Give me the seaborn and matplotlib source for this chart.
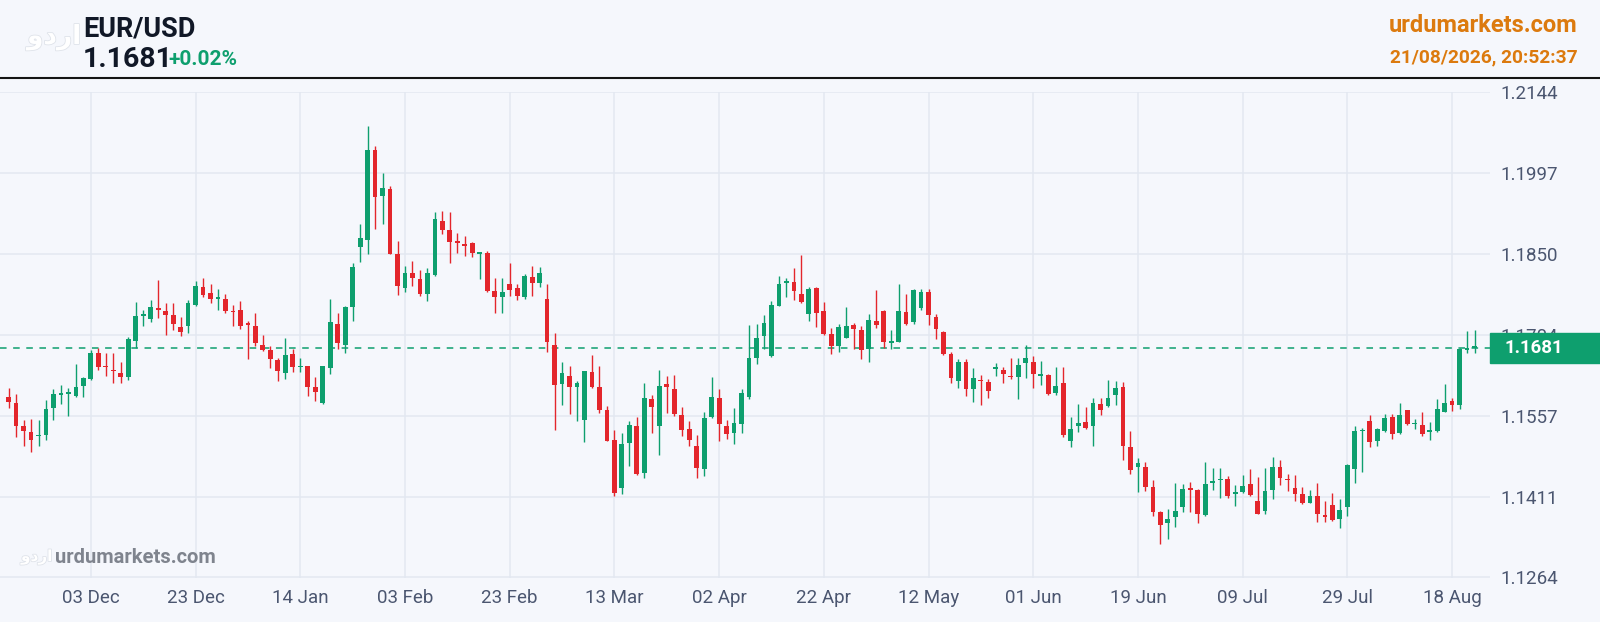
import numpy as np
import pandas as pd
import matplotlib
matplotlib.use("Agg")
import matplotlib.pyplot as plt
import matplotlib.transforms as mtransforms
import matplotlib.patheffects as pe
from matplotlib.patches import Rectangle
from matplotlib.lines import Line2D
import seaborn as sns

# daily EUR/USD candles (oldest first)
open_ = [
    1.1592, 1.1581, 1.1539, 1.1528, 1.1520, 1.1522, 1.1572, 1.1595, 1.1597, 1.1594,
    1.1611, 1.1624, 1.1671, 1.1646, 1.1639, 1.1634, 1.1627, 1.1693, 1.1738, 1.1733,
    1.1752, 1.1747, 1.1740, 1.1719, 1.1720, 1.1759, 1.1791, 1.1780, 1.1770, 1.1770,
    1.1747, 1.1749, 1.1723, 1.1720, 1.1686, 1.1676, 1.1658, 1.1635, 1.1670, 1.1645,
    1.1647, 1.1609, 1.1580, 1.1644, 1.1724, 1.1686, 1.1754, 1.1864, 1.1877, 1.2039,
    1.1956, 1.1968, 1.1851, 1.1789, 1.1817, 1.1805, 1.1779, 1.1813, 1.1911, 1.1894,
    1.1872, 1.1868, 1.1871, 1.1851, 1.1852, 1.1784, 1.1772, 1.1796, 1.1789, 1.1772,
    1.1809, 1.1799, 1.1769, 1.1686, 1.1615, 1.1630, 1.1610, 1.1550, 1.1636, 1.1609,
    1.1567, 1.1514, 1.1426, 1.1508, 1.1538, 1.1453, 1.1588, 1.1539, 1.1615, 1.1606,
    1.1559, 1.1533, 1.1503, 1.1460, 1.1555, 1.1589, 1.1539, 1.1526, 1.1543, 1.1591,
    1.1662, 1.1702, 1.1666, 1.1757, 1.1798, 1.1800, 1.1779, 1.1741, 1.1789, 1.1747,
    1.1705, 1.1683, 1.1699, 1.1722, 1.1712, 1.1679, 1.1729, 1.1748, 1.1690, 1.1692,
    1.1746, 1.1728, 1.1753, 1.1781, 1.1736, 1.1709, 1.1670, 1.1620, 1.1655, 1.1606,
    1.1622, 1.1619, 1.1642, 1.1640, 1.1628, 1.1628, 1.1653, 1.1654, 1.1630, 1.1631,
    1.1599, 1.1616, 1.1512, 1.1538, 1.1546, 1.1538, 1.1578, 1.1575, 1.1595, 1.1610,
    1.1501, 1.1464, 1.1464, 1.1428, 1.1383, 1.1362, 1.1373, 1.1391, 1.1425, 1.1423,
    1.1377, 1.1436, 1.1440, 1.1442, 1.1416, 1.1419, 1.1434, 1.1402, 1.1385, 1.1423,
    1.1464, 1.1442, 1.1427, 1.1415, 1.1400, 1.1411, 1.1375, 1.1396, 1.1370, 1.1391,
    1.1461, 1.1529, 1.1548, 1.1512, 1.1529, 1.1556, 1.1526, 1.1567, 1.1542, 1.1541,
    1.1528, 1.1529, 1.1565, 1.1585, 1.1577, 1.1677, 1.1680,
]
high_ = [
    1.1608, 1.1597, 1.1549, 1.1552, 1.1550, 1.1586, 1.1605, 1.1613, 1.1607, 1.1652,
    1.1628, 1.1676, 1.1680, 1.1671, 1.1672, 1.1655, 1.1700, 1.1763, 1.1749, 1.1768,
    1.1804, 1.1762, 1.1762, 1.1737, 1.1768, 1.1802, 1.1807, 1.1796, 1.1788, 1.1779,
    1.1759, 1.1765, 1.1730, 1.1743, 1.1703, 1.1683, 1.1662, 1.1698, 1.1678, 1.1662,
    1.1648, 1.1627, 1.1648, 1.1769, 1.1743, 1.1757, 1.1834, 1.1906, 1.2082, 1.2047,
    1.1997, 1.1974, 1.1874, 1.1829, 1.1838, 1.1822, 1.1826, 1.1926, 1.1929, 1.1927,
    1.1889, 1.1884, 1.1873, 1.1854, 1.1857, 1.1807, 1.1807, 1.1835, 1.1796, 1.1815,
    1.1829, 1.1827, 1.1796, 1.1707, 1.1654, 1.1648, 1.1621, 1.1639, 1.1668, 1.1647,
    1.1575, 1.1531, 1.1526, 1.1548, 1.1556, 1.1616, 1.1595, 1.1641, 1.1630, 1.1631,
    1.1573, 1.1548, 1.1522, 1.1564, 1.1628, 1.1606, 1.1550, 1.1572, 1.1606, 1.1722,
    1.1723, 1.1740, 1.1765, 1.1811, 1.1808, 1.1825, 1.1849, 1.1790, 1.1791, 1.1763,
    1.1716, 1.1723, 1.1755, 1.1726, 1.1720, 1.1741, 1.1785, 1.1750, 1.1712, 1.1796,
    1.1778, 1.1788, 1.1788, 1.1787, 1.1741, 1.1711, 1.1673, 1.1661, 1.1661, 1.1644,
    1.1631, 1.1624, 1.1653, 1.1645, 1.1662, 1.1662, 1.1686, 1.1665, 1.1656, 1.1633,
    1.1645, 1.1645, 1.1556, 1.1578, 1.1573, 1.1590, 1.1589, 1.1622, 1.1621, 1.1618,
    1.1529, 1.1480, 1.1474, 1.1440, 1.1384, 1.1388, 1.1435, 1.1434, 1.1437, 1.1425,
    1.1474, 1.1462, 1.1462, 1.1448, 1.1432, 1.1450, 1.1461, 1.1446, 1.1463, 1.1483,
    1.1477, 1.1452, 1.1450, 1.1429, 1.1422, 1.1436, 1.1402, 1.1418, 1.1406, 1.1470,
    1.1538, 1.1535, 1.1559, 1.1536, 1.1561, 1.1560, 1.1581, 1.1568, 1.1551, 1.1564,
    1.1546, 1.1587, 1.1615, 1.1589, 1.1680, 1.1711, 1.1712,
]
low_ = [
    1.1572, 1.1518, 1.1503, 1.1492, 1.1503, 1.1513, 1.1549, 1.1578, 1.1557, 1.1591,
    1.1592, 1.1622, 1.1641, 1.1629, 1.1616, 1.1616, 1.1622, 1.1681, 1.1720, 1.1727,
    1.1735, 1.1703, 1.1713, 1.1702, 1.1707, 1.1757, 1.1772, 1.1762, 1.1749, 1.1743,
    1.1720, 1.1715, 1.1660, 1.1684, 1.1674, 1.1644, 1.1620, 1.1624, 1.1636, 1.1636,
    1.1594, 1.1585, 1.1579, 1.1633, 1.1678, 1.1671, 1.1730, 1.1836, 1.1851, 1.1896,
    1.1906, 1.1850, 1.1776, 1.1781, 1.1792, 1.1775, 1.1766, 1.1811, 1.1887, 1.1834,
    1.1853, 1.1848, 1.1846, 1.1805, 1.1782, 1.1743, 1.1744, 1.1775, 1.1767, 1.1770,
    1.1775, 1.1790, 1.1673, 1.1532, 1.1576, 1.1560, 1.1547, 1.1509, 1.1607, 1.1562,
    1.1511, 1.1412, 1.1415, 1.1467, 1.1450, 1.1444, 1.1526, 1.1486, 1.1562, 1.1557,
    1.1521, 1.1503, 1.1444, 1.1448, 1.1553, 1.1511, 1.1515, 1.1506, 1.1526, 1.1588,
    1.1651, 1.1678, 1.1664, 1.1756, 1.1772, 1.1767, 1.1761, 1.1729, 1.1719, 1.1703,
    1.1669, 1.1673, 1.1699, 1.1679, 1.1661, 1.1655, 1.1716, 1.1681, 1.1678, 1.1691,
    1.1722, 1.1723, 1.1749, 1.1722, 1.1696, 1.1667, 1.1617, 1.1608, 1.1593, 1.1582,
    1.1576, 1.1589, 1.1630, 1.1616, 1.1624, 1.1587, 1.1625, 1.1607, 1.1613, 1.1595,
    1.1595, 1.1518, 1.1500, 1.1527, 1.1533, 1.1503, 1.1558, 1.1574, 1.1576, 1.1478,
    1.1451, 1.1419, 1.1420, 1.1376, 1.1324, 1.1334, 1.1355, 1.1382, 1.1383, 1.1362,
    1.1376, 1.1422, 1.1409, 1.1408, 1.1393, 1.1417, 1.1412, 1.1379, 1.1379, 1.1406,
    1.1432, 1.1420, 1.1403, 1.1398, 1.1399, 1.1365, 1.1365, 1.1367, 1.1354, 1.1376,
    1.1435, 1.1456, 1.1501, 1.1503, 1.1527, 1.1515, 1.1524, 1.1541, 1.1533, 1.1521,
    1.1513, 1.1527, 1.1564, 1.1566, 1.1570, 1.1671, 1.1671,
]
close_ = [
    1.1582, 1.1539, 1.1530, 1.1514, 1.1522, 1.1569, 1.1597, 1.1596, 1.1598, 1.1609,
    1.1626, 1.1671, 1.1646, 1.1645, 1.1638, 1.1627, 1.1696, 1.1738, 1.1739, 1.1754,
    1.1750, 1.1740, 1.1724, 1.1710, 1.1762, 1.1793, 1.1777, 1.1770, 1.1772, 1.1747,
    1.1745, 1.1720, 1.1722, 1.1690, 1.1677, 1.1660, 1.1638, 1.1667, 1.1645, 1.1646,
    1.1610, 1.1600, 1.1647, 1.1727, 1.1689, 1.1755, 1.1828, 1.1879, 1.2040, 1.1954,
    1.1970, 1.1851, 1.1792, 1.1817, 1.1807, 1.1779, 1.1816, 1.1915, 1.1895, 1.1872,
    1.1871, 1.1866, 1.1852, 1.1853, 1.1784, 1.1773, 1.1781, 1.1786, 1.1775, 1.1810,
    1.1799, 1.1817, 1.1691, 1.1613, 1.1635, 1.1609, 1.1616, 1.1638, 1.1610, 1.1568,
    1.1512, 1.1417, 1.1506, 1.1540, 1.1452, 1.1589, 1.1573, 1.1612, 1.1609, 1.1560,
    1.1531, 1.1514, 1.1463, 1.1553, 1.1591, 1.1542, 1.1524, 1.1544, 1.1598, 1.1662,
    1.1699, 1.1725, 1.1759, 1.1796, 1.1799, 1.1783, 1.1763, 1.1787, 1.1744, 1.1705,
    1.1683, 1.1719, 1.1720, 1.1714, 1.1677, 1.1731, 1.1722, 1.1691, 1.1692, 1.1748,
    1.1723, 1.1785, 1.1782, 1.1740, 1.1714, 1.1669, 1.1625, 1.1655, 1.1606, 1.1625,
    1.1620, 1.1603, 1.1644, 1.1633, 1.1627, 1.1650, 1.1663, 1.1633, 1.1631, 1.1597,
    1.1611, 1.1523, 1.1533, 1.1544, 1.1536, 1.1580, 1.1568, 1.1589, 1.1608, 1.1503,
    1.1459, 1.1471, 1.1429, 1.1382, 1.1359, 1.1370, 1.1385, 1.1425, 1.1423, 1.1379,
    1.1433, 1.1437, 1.1441, 1.1412, 1.1417, 1.1430, 1.1414, 1.1380, 1.1421, 1.1464,
    1.1445, 1.1440, 1.1415, 1.1399, 1.1412, 1.1379, 1.1374, 1.1368, 1.1386, 1.1468,
    1.1529, 1.1530, 1.1509, 1.1533, 1.1554, 1.1524, 1.1559, 1.1543, 1.1543, 1.1524,
    1.1529, 1.1570, 1.1580, 1.1576, 1.1678, 1.1679, 1.1681,
]

date_labels = ["03 Dec", "23 Dec", "14 Jan", "03 Feb", "23 Feb", "13 Mar", "02 Apr",
               "22 Apr", "12 May", "01 Jun", "19 Jun", "09 Jul", "29 Jul", "18 Aug"]
price_labels = ["1.1264", "1.1411", "1.1557", "1.1704", "1.1850", "1.1997", "1.2144"]
y_min, y_max = 1.1264, 1.2144
last_price = 1.1681
change_text = "+0.02%"

df = pd.DataFrame({"open": open_, "high": high_, "low": low_, "close": close_})
df["x"] = np.arange(len(df))
df["up"] = df["close"] >= df["open"]

BG = "#f5f7fc"
GREEN = "#0e9f6e"
RED = "#e3262c"
GRID = "#e3e8f1"
TICK = "#4b5670"
ORANGE = "#dc7a0e"

sns.set_theme(style="whitegrid", rc={
    "axes.facecolor": BG, "figure.facecolor": BG,
    "grid.color": GRID, "grid.linewidth": 1.1,
})
plt.rcParams["font.family"] = ["Roboto", "DejaVu Sans"]

W, H = 1600, 622
fig = plt.figure(figsize=(W / 100, H / 100), dpi=100)
ax = fig.add_axes([0, 1 - 577.5 / H, 1490 / W, (577.5 - 92.3) / H])

# candles
colors = np.where(df["up"], GREEN, RED)
ax.vlines(df["x"], df["low"], df["high"], colors=colors, lw=1.0, zorder=3)
body_lo = df[["open", "close"]].min(axis=1)
body_h = (df["open"] - df["close"]).abs().clip(lower=0.0003)
ax.bar(df["x"], body_h, bottom=body_lo, width=0.64, color=colors, linewidth=0, zorder=4)

# last price line
ax.axhline(last_price, color=GREEN, lw=1.1, dashes=(4.3, 4.3), zorder=2)

ax.set_ylim(y_min, y_max)
ax.set_xlim(-1.15, 198.07)
ax.set_yticks(np.linspace(y_min, y_max, len(price_labels)))
ax.set_yticklabels(price_labels)
ax.set_xticks(11 + 14 * np.arange(len(date_labels)))
ax.set_xticklabels(date_labels)
ax.yaxis.tick_right()
ax.tick_params(axis="y", length=0, pad=7.3, labelsize=13.5, labelcolor=TICK)
ax.tick_params(axis="x", length=0, pad=8.0, labelsize=13.5, labelcolor=TICK)
ax.grid(True, color=GRID, lw=1.1)
ax.set_axisbelow(True)
sns.despine(ax=ax, left=True, bottom=True)
ax.set_xlabel("")
ax.set_ylabel("")

# price tag on the right
tr = mtransforms.blended_transform_factory(fig.transFigure, ax.transData)
tag_h = 30 / (577.5 - 92.3) * (y_max - y_min)
ax.add_patch(Rectangle((1490 / W, last_price - tag_h / 2), 110 / W, tag_h,
                       transform=tr, color=GREEN, clip_on=False, zorder=6))
ax.text(1505 / W, last_price, f"{last_price:.4f}", transform=tr, color="white",
        fontsize=13.5, fontweight="bold", ha="left", va="center", zorder=7,
        clip_on=False)

# header
def px(x, y):
    return x / W, 1 - y / H

logo_fx = [pe.withStroke(linewidth=1.2, foreground="#dfe3ea")]
fig.text(*px(27, 44), "ودرا", fontsize=19, fontweight="bold", color="white",
         ha="left", va="baseline", family=["DejaVu Sans"], path_effects=logo_fx)
fig.text(*px(83, 36.7), "EUR/USD", fontsize=19.5, fontweight="bold",
         color="#111827", ha="left", va="baseline")
fig.text(*px(83, 66.7), f"{last_price:.4f}", fontsize=20.5, fontweight="bold",
         color="#111827", ha="left", va="baseline")
fig.text(*px(168, 65), change_text, fontsize=15, fontweight="semibold",
         color=GREEN, ha="left", va="baseline")
fig.text(*px(1578, 32.3), "urdumarkets.com", fontsize=17, fontweight="bold",
         color=ORANGE, ha="right", va="baseline")
fig.text(*px(1578, 62.7), "21/08/2026, 20:52:37", fontsize=13.8,
         fontweight="semibold", color=ORANGE, ha="right", va="baseline")
fig.add_artist(Line2D([0, 1], [1 - 78.3 / H] * 2, color="#141414", lw=1.5,
                      transform=fig.transFigure))

# watermark
fig.text(*px(21, 561), "ودرا", fontsize=11, fontweight="bold", color="white",
         ha="left", va="baseline", family=["DejaVu Sans"], path_effects=logo_fx)
fig.text(*px(55, 563.3), "urdumarkets.com", fontsize=14.5, fontweight="bold",
         color="#7f848e", ha="left", va="baseline")

fig.savefig("out.png", dpi=100, facecolor=BG)
